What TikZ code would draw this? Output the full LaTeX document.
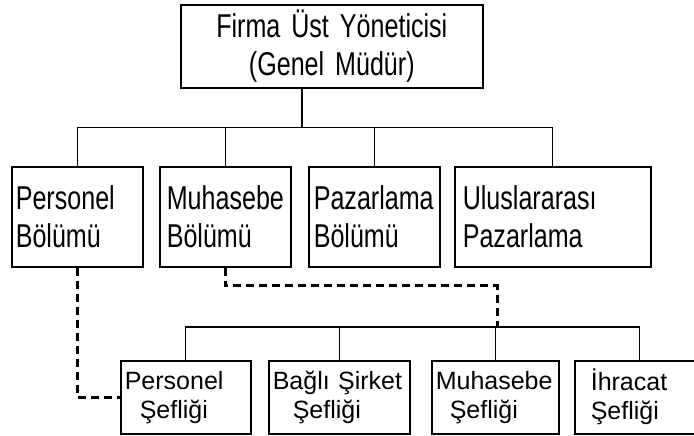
\documentclass[tikz,border=0pt]{standalone}
\usepackage{fontspec}
\setmainfont{Liberation Sans}
\newfontfamily\tallfont{Liberation Sans}[FakeStretch=0.76]
\usetikzlibrary{positioning}
\tikzset{
    topbox/.style={draw=black, line width=1.6pt, anchor=north west, inner sep=0pt,
        minimum width=302pt, minimum height=83pt, text width=290pt, align=center,
        font=\tallfont\fontsize{33}{38}\selectfont},
    unitbox/.style={draw=black, line width=1.6pt, anchor=north west, inner ysep=0pt,
        minimum height=100pt, align=left, font=\tallfont\fontsize{33}{38}\selectfont},
    chiefbox/.style={draw=black, line width=1.6pt, anchor=north west, inner ysep=0pt,
        minimum height=73pt, align=left, font=\fontsize{25}{29}\selectfont},
    link/.style={draw=black, line width=1.2pt},
    staffline/.style={draw=black, line width=3pt, dash pattern=on 8pt off 5pt},
}
\begin{document}
\begin{tikzpicture}[x=1pt, y=-1pt]
    \useasboundingbox (0,0) rectangle (694,436);
    % general manager
    \node[topbox] (gm) at (180,4) {Firma Üst Yöneticisi\\(Genel Müdür)};
    % departments
    \node[unitbox, inner xsep=4pt, text width=123pt] (pers) at (11,166) {Personel\\Bölümü};
    \node[unitbox, inner xsep=7pt, text width=117pt] (muh) at (159,166) {Muhasebe\\Bölümü};
    \node[unitbox, inner xsep=5pt, text width=121pt] (paz) at (308,166) {Pazarlama\\Bölümü};
    \node[unitbox, inner xsep=8pt, text width=180pt] (intl) at (454,166) {Uluslararası\\Pazarlama};
    % chiefs
    \node[chiefbox, inner xsep=4pt, text width=122pt] (pchief) at (120,360) {Personel\\\hspace*{15pt}Şefliği};
    \node[chiefbox, inner xsep=4pt, text width=133pt] (bchief) at (268,360) {Bağlı Şirket\\\hspace*{20pt}Şefliği};
    \node[chiefbox, inner xsep=4pt, text width=119pt] (mchief) at (431,360) {Muhasebe\\\hspace*{14pt}Şefliği};
    \node[chiefbox, inner xsep=16pt, text width=98pt] (echief) at (574,360) {İhracat\\Şefliği};
    % solid lines
    \draw[link] ([xshift=122pt]gm.south west) -- ++(0,39) coordinate (busA);
    \foreach \n in {pers,muh,paz,intl}
        \draw[link] (\n.north) |- (busA);
    \coordinate (busB) at (497,327);
    \foreach \n in {pchief,bchief,mchief,echief}
        \draw[link] (\n.north) |- (busB);
    % dashed lines
    \draw[staffline] (pers.south) |- (pchief.west);
    \draw[staffline] (muh.south) -- ++(0,18) -| (busB);
\end{tikzpicture}
\end{document}
